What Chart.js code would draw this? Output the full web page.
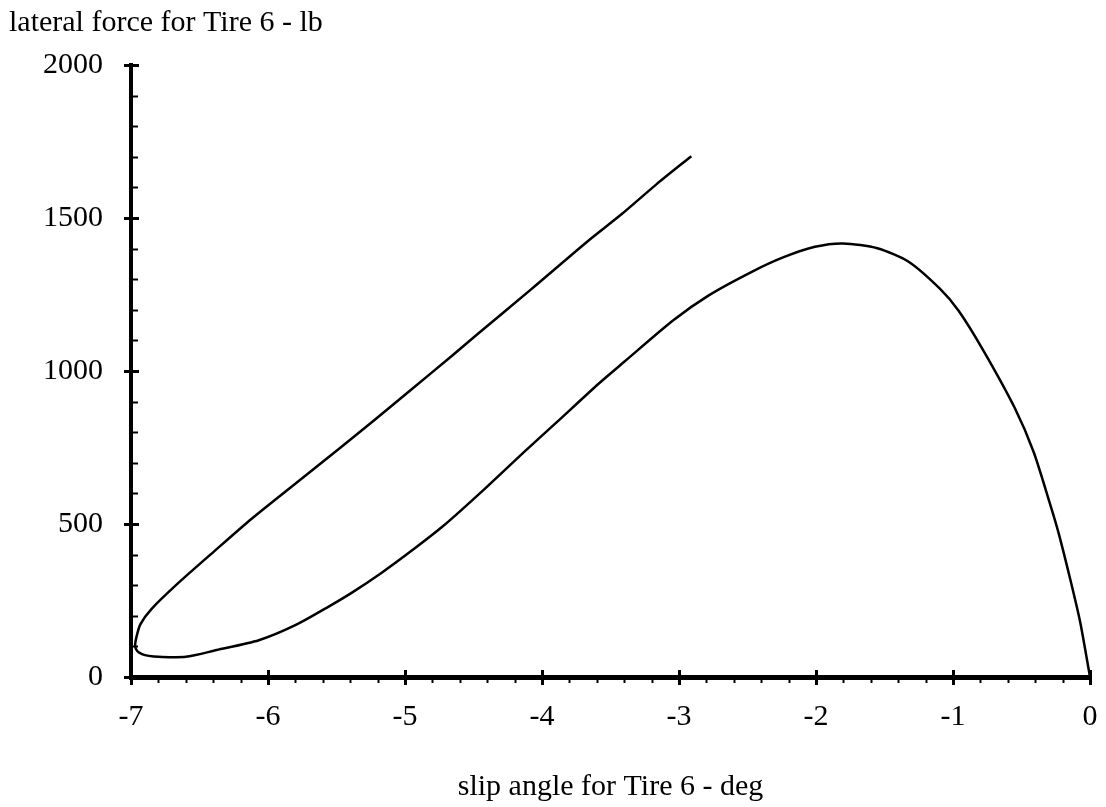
<!DOCTYPE html>
<html>
<head>
<meta charset="utf-8">
<script src="https://cdn.jsdelivr.net/npm/chart.js@4/dist/chart.umd.min.js"></script>
<style>
  html, body { margin: 0; padding: 0; background: #fff; }
  #wrap { width: 1106px; height: 807px; position: relative; }
</style>
</head>
<body>
<div id="wrap"><canvas id="chartId"></canvas></div>
<script>
// slip angle (deg) and lateral force (lb), traced in drawing order:
// top end of the loading branch, down to the turn near -7, then back out to 0
const slipAngle = [
  -2.91, -3.165, -3.42, -3.664, -4.082, -4.472, -4.661, -4.958,
  -5.227, -5.47, -5.794, -6.117, -6.387, -6.66, -6.851, -6.932, -6.96, -6.97,
  -6.955, -6.92, -6.87, -6.8, -6.6, -6.375, -6.067, -5.797, -5.554, -5.39,
  -5.17, -4.96, -4.715, -4.418, -4.122, -3.906, -3.583, -3.4, -3.044, -2.78,
  -2.465, -2.236, -2.008, -1.803, -1.552, -1.324, -1.096, -0.959, -0.777, -0.549,
  -0.412, -0.298, -0.23, -0.138, -0.07, 0
];
const lateralForce = [
  1702, 1610, 1512, 1425, 1266, 1120, 1048, 938,
  838, 750, 634, 518, 413, 305, 222, 172, 131, 103,
  85, 75, 69, 66, 66, 88, 120, 170, 231, 275,
  341, 410, 496, 615, 739, 827, 960, 1030, 1165, 1248,
  1325, 1372, 1406, 1417, 1401, 1357, 1269, 1197, 1066, 879,
  736, 575, 472, 308, 176, 0
];

const xTickValues = [-7, -6, -5, -4, -3, -2, -1, 0];
const yTickValues = [0, 500, 1000, 1500, 2000];
const xMinorStep = 0.2;
const yMinorStep = 100;

const yAxisLabel = 'lateral force for Tire 6 - lb';
const xAxisLabel = 'slip angle for Tire 6 - deg';

Chart.defaults.font.family = "'Liberation Serif', 'Times New Roman', serif";
Chart.defaults.font.size = 30;
Chart.defaults.color = '#000';

// major ticks cross the axis, minor ticks sit on one side only
const axisTicks = {
  id: 'axisTicks',
  afterDraw(chart) {
    const ctx = chart.ctx;
    const xs = chart.scales.x;
    const ys = chart.scales.y;
    const x0 = xs.getPixelForValue(xTickValues[0]);
    const y0 = ys.getPixelForValue(yTickValues[0]);
    ctx.save();
    ctx.strokeStyle = '#000';

    const xCount = Math.round((xs.max - xs.min) / xMinorStep);
    for (let i = 0; i <= xCount; i++) {
      const v = xs.min + i * xMinorStep;
      const px = Math.round(xs.getPixelForValue(v)) + 0.5;
      const major = i % 5 === 0;
      ctx.lineWidth = major ? 3 : 2;
      ctx.beginPath();
      ctx.moveTo(px, major ? y0 - 7 : y0);
      ctx.lineTo(px, y0 + (major ? 8 : 6));
      ctx.stroke();
    }

    const yCount = Math.round((ys.max - ys.min) / yMinorStep);
    for (let i = 0; i <= yCount; i++) {
      const v = ys.min + i * yMinorStep;
      const py = Math.round(ys.getPixelForValue(v)) + 0.5;
      const major = i % 5 === 0;
      ctx.lineWidth = major ? 3 : 2;
      ctx.beginPath();
      ctx.moveTo(major ? x0 - 7 : x0, py);
      ctx.lineTo(x0 + (major ? 8 : 7), py);
      ctx.stroke();
    }

    // the force label sits flat above the y axis
    ctx.fillStyle = '#000';
    ctx.font = "30px 'Liberation Serif', 'Times New Roman', serif";
    ctx.textAlign = 'left';
    ctx.textBaseline = 'alphabetic';
    ctx.fillText(yAxisLabel, 9, 31);
    ctx.restore();
  }
};

const chrt = document.getElementById('chartId').getContext('2d');

const chartConfig = {
  type: 'scatter',
  data: {
    datasets: [{
      label: 'Tire 6',
      data: slipAngle.map((a, i) => ({ x: a, y: lateralForce[i] })),
      showLine: true,
      borderColor: '#000',
      borderWidth: 2.5,
      pointRadius: 0,
      tension: 0.25,
      fill: false
    }]
  },
  options: {
    responsive: true,
    maintainAspectRatio: false,
    animation: false,
    layout: { padding: { left: 0, right: 16, top: 65, bottom: 0 } },
    plugins: {
      legend: { display: false },
      tooltip: { enabled: false },
      title: { display: false }
    },
    scales: {
      x: {
        type: 'linear',
        min: xTickValues[0],
        max: xTickValues[xTickValues.length - 1],
        afterBuildTicks: (scale) => { scale.ticks = xTickValues.map(v => ({ value: v })); },
        afterFit: (scale) => {
          scale.height = 130;
          scale.paddingLeft = 0;
          scale.paddingRight = 0;
        },
        ticks: { padding: 22, color: '#000', callback: (v) => String(v) },
        grid: { display: false, drawTicks: false },
        border: { display: true, color: '#000', width: 5 },
        title: {
          display: true,
          text: xAxisLabel,
          color: '#000',
          padding: { top: 0, bottom: 2 }
        }
      },
      y: {
        type: 'linear',
        min: yTickValues[0],
        max: yTickValues[yTickValues.length - 1],
        afterBuildTicks: (scale) => { scale.ticks = yTickValues.map(v => ({ value: v })); },
        afterFit: (scale) => { scale.width = 131; },
        ticks: { padding: 28, color: '#000', callback: (v) => String(v) },
        grid: { display: false, drawTicks: false },
        border: { display: true, color: '#000', width: 4 }
      }
    }
  },
  plugins: [axisTicks]
};

window.tireChart = new Chart(chrt, chartConfig);
</script>
</body>
</html>
